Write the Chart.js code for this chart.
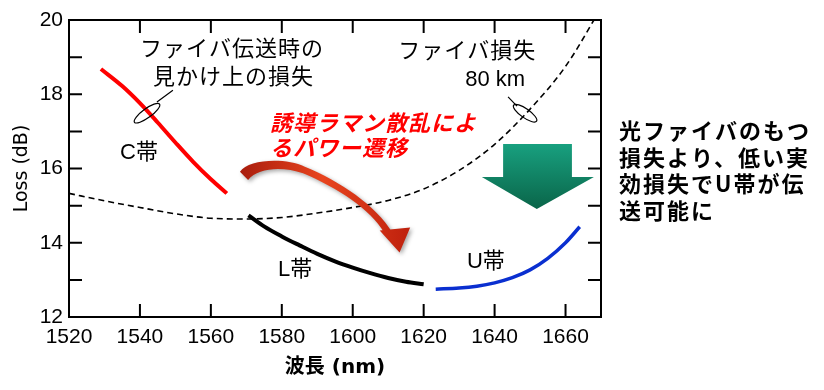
<!DOCTYPE html>
<html>
<head>
<meta charset="utf-8">
<script src="https://cdn.jsdelivr.net/npm/chart.js@4"></script>
<style>
  html, body { margin: 0; padding: 0; background: #fff; }
  canvas { display: block; }
</style>
</head>
<body>
<canvas id="chart" width="824" height="390"></canvas>
<script>
// wavelength (nm) and loss (dB)
const fiberNm   = [1520, 1530, 1540, 1550, 1560, 1570, 1580, 1590, 1600, 1610, 1620, 1630, 1640, 1650, 1660, 1668, 1672];
const fiberLoss = [15.33, 15.13, 14.95, 14.78, 14.66, 14.64, 14.68, 14.8, 14.95, 15.14, 15.45, 15.95, 16.65, 17.6, 18.75, 20.0, 20.7];

const cNm   = [1529, 1535, 1540, 1545, 1550, 1555, 1560, 1564.5];
const cLoss = [18.68, 18.22, 17.76, 17.24, 16.7, 16.18, 15.71, 15.33];

const lNm   = [1570.6, 1575, 1580, 1585, 1590, 1595, 1600, 1605, 1610, 1615, 1620];
const lLoss = [14.74, 14.44, 14.17, 13.93, 13.7, 13.5, 13.33, 13.18, 13.05, 12.95, 12.88];

const uNm   = [1623.4, 1630, 1635, 1640, 1645, 1650, 1655, 1660, 1664];
const uLoss = [12.75, 12.78, 12.83, 12.92, 13.06, 13.27, 13.58, 14.0, 14.43];

const xTicks = [1520, 1540, 1560, 1580, 1600, 1620, 1640, 1660];
const yTicks = [12, 14, 16, 18, 20];
const sideNote = ['光ファイバのもつ', '損失より、低い実', '効損失でU帯が伝', '送可能に'];

const pts = (xs, ys) => xs.map((x, i) => ({ x, y: ys[i] }));
const JP = '"Noto Sans CJK JP"';

const annotate = {
  id: 'annotate',
  afterDatasetsDraw(chart) {
    const { ctx, chartArea: a, scales } = chart;
    const X = v => scales.x.getPixelForValue(v);
    const Y = v => scales.y.getPixelForValue(v);
    ctx.save();

    // frame + inward ticks
    ctx.strokeStyle = '#000';
    ctx.lineWidth = 2;
    ctx.strokeRect(a.left, a.top, a.right - a.left, a.bottom - a.top);
    ctx.beginPath();
    xTicks.slice(1).forEach(v => {
      ctx.moveTo(X(v), a.bottom); ctx.lineTo(X(v), a.bottom - 13);
      ctx.moveTo(X(v), a.top); ctx.lineTo(X(v), a.top + 13);
    });
    for (let v = yTicks[0] + 1; v < yTicks[yTicks.length - 1]; v++) {
      ctx.moveTo(a.left, Y(v)); ctx.lineTo(a.left + 13, Y(v));
      ctx.moveTo(a.right, Y(v)); ctx.lineTo(a.right - 13, Y(v));
    }
    ctx.stroke();

    // text labels
    const text = (s, nm, db, font, color, spacing) => {
      ctx.font = font;
      ctx.fillStyle = color || '#000';
      ctx.letterSpacing = spacing || '0px';
      ctx.textBaseline = 'middle';
      ctx.textAlign = 'left';
      ctx.fillText(s, X(nm), Y(db));
    };
    const f22 = '22px "Liberation Sans", ' + JP;
    text('ファイバ伝送時の', 1540.0, 19.19, f22, '#000', '1px');
    text('見かけ上の損失', 1543.7, 18.44, f22, '#000', '1px');
    text('C帯', 1534.4, 16.42, f22);
    text('ファイバ損失', 1612.8, 19.14, f22, '#000', '1px');
    text('80 km', 1631.7, 18.38, f22);
    text('L帯', 1578.9, 13.27, f22);
    text('U帯', 1632.2, 13.48, f22);
    const red = 'italic bold 22px "Liberation Sans", ' + JP;
    text('誘導ラマン散乱によ', 1576.7, 17.17, red, '#ff0000', '1px');
    text('るパワー遷移', 1576.7, 16.5, red, '#ff0000', '1px');

    // ellipse callouts
    ctx.letterSpacing = '0px';
    ctx.lineWidth = 1.2;
    ctx.beginPath();
    ctx.ellipse(X(1542.0), Y(17.49), 15.5, 4.5, -36 * Math.PI / 180, 0, 2 * Math.PI);
    ctx.moveTo(X(1544.8), Y(17.79)); ctx.lineTo(X(1549.3), Y(18.11));
    ctx.stroke();
    ctx.beginPath();
    ctx.ellipse(X(1648.6), Y(17.49), 14, 4.5, 35 * Math.PI / 180, 0, 2 * Math.PI);
    ctx.moveTo(X(1643.8), Y(17.93)); ctx.lineTo(X(1646.3), Y(17.68));
    ctx.stroke();

    // red curved arrow (power transfer)
    ctx.save();
    ctx.shadowColor = 'rgba(0,0,0,0.35)';
    ctx.shadowBlur = 4; ctx.shadowOffsetX = 2; ctx.shadowOffsetY = 2;
    const g = ctx.createLinearGradient(X(1568), 0, X(1615), 0);
    g.addColorStop(0, '#a81c0c');
    g.addColorStop(0.5, '#e8441e');
    g.addColorStop(1, '#c0220e');
    ctx.fillStyle = g;
    ctx.beginPath();
    ctx.moveTo(X(1568.2), Y(15.91));
    ctx.bezierCurveTo(X(1570.5), Y(16.25), X(1580.9), Y(16.3), X(1586.5), Y(16.05));
    ctx.bezierCurveTo(X(1596.4), Y(15.66), X(1606.5), Y(15.02), X(1611.3), Y(14.26));
    ctx.lineTo(X(1608.9), Y(14.27));
    ctx.bezierCurveTo(X(1604.8), Y(14.92), X(1595.8), Y(15.47), X(1586.0), Y(15.87));
    ctx.bezierCurveTo(X(1580.1), Y(16.06), X(1573.3), Y(16.02), X(1570.5), Y(15.69));
    ctx.closePath();
    ctx.moveTo(X(1607.6), Y(14.33));
    ctx.lineTo(X(1616.2), Y(14.41));
    ctx.lineTo(X(1613.2), Y(13.74));
    ctx.closePath();
    ctx.fill();
    ctx.restore();

    // green down arrow
    const gg = ctx.createLinearGradient(0, Y(16.66), 0, Y(14.91));
    gg.addColorStop(0, '#18a07f');
    gg.addColorStop(1, '#0a6549');
    ctx.fillStyle = gg;
    ctx.beginPath();
    ctx.moveTo(X(1642.4), Y(16.66));
    ctx.lineTo(X(1661.8), Y(16.66));
    ctx.lineTo(X(1661.8), Y(15.77));
    ctx.lineTo(X(1668.0), Y(15.77));
    ctx.lineTo(X(1651.9), Y(14.91));
    ctx.lineTo(X(1636.4), Y(15.77));
    ctx.lineTo(X(1642.4), Y(15.77));
    ctx.closePath();
    ctx.fill();

    // note to the right of the plot
    ctx.font = 'bold 22px ' + JP;
    ctx.fillStyle = '#000';
    ctx.letterSpacing = '2px';
    ctx.textBaseline = 'middle';
    sideNote.forEach((s, i) => ctx.fillText(s, a.right + 18, 131 + i * 26.5));
    ctx.restore();
  }
};

new Chart(document.getElementById('chart'), {
  type: 'line',
  data: {
    datasets: [
      { data: pts(fiberNm, fiberLoss), borderColor: '#000', borderWidth: 1.6, borderDash: [6, 4] },
      { data: pts(cNm, cLoss), borderColor: '#ff0000', borderWidth: 4 },
      { data: pts(lNm, lLoss), borderColor: '#000', borderWidth: 4 },
      { data: pts(uNm, uLoss), borderColor: '#0a2fd0', borderWidth: 3.5 }
    ]
  },
  options: {
    responsive: false,
    animation: false,
    layout: { padding: { top: 20, right: 223, left: 0, bottom: 0 } },
    elements: { point: { radius: 0 }, line: { cubicInterpolationMode: 'monotone', fill: false } },
    plugins: { legend: { display: false }, tooltip: { enabled: false } },
    scales: {
      x: {
        type: 'linear', min: 1520, max: 1670,
        afterFit: s => { s.height = 73; },
        grid: { display: false, drawTicks: false },
        border: { display: false },
        ticks: {
          stepSize: 20, includeBounds: false, autoSkip: false, maxRotation: 0, padding: 8,
          color: '#000', font: { family: '"Liberation Sans"', size: 21 },
          callback: v => String(v)
        },
        title: {
          display: true, text: '波長 (nm)', color: '#000',
          font: { family: '"DejaVu Sans", ' + JP, size: 20, weight: 'bold' },
          padding: { top: 10, bottom: 10 }
        }
      },
      y: {
        min: 12, max: 20,
        afterFit: s => { s.width = 69; },
        grid: { display: false, drawTicks: false },
        border: { display: false },
        ticks: {
          stepSize: 2, padding: 6, color: '#000',
          font: { family: '"Liberation Sans"', size: 21 },
          callback: v => String(v)
        },
        title: {
          display: true, text: 'Loss (dB)', color: '#000',
          font: { family: '"DejaVu Sans"', size: 19 },
          padding: { top: 11, bottom: 0 }
        }
      }
    }
  },
  plugins: [annotate]
});
</script>
</body>
</html>
